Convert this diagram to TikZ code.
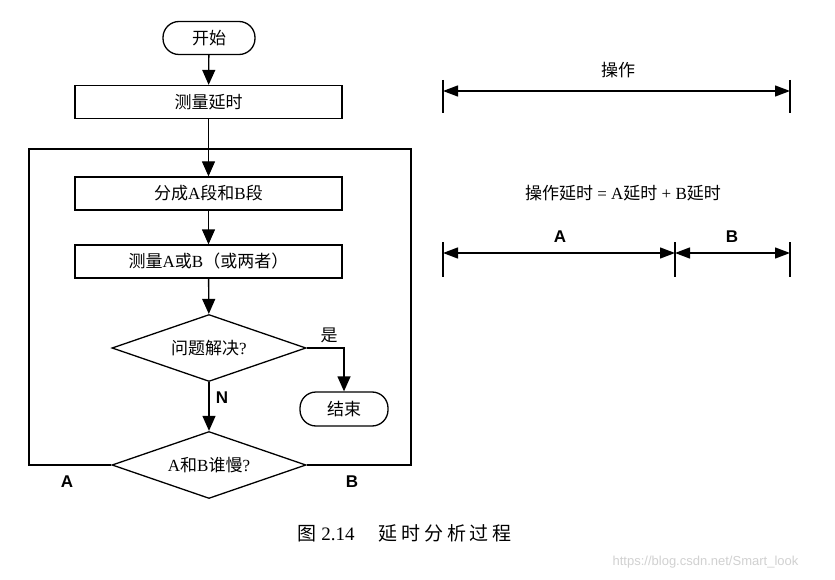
\documentclass[tikz,border=0pt]{standalone}
\usepackage{fontspec}
\setmainfont{Liberation Serif}
\newfontfamily\cjk{Noto Sans CJK SC}
\newfontfamily\cjkcap[LetterSpace=20]{Noto Sans CJK SC}
\newfontfamily\lsans{Liberation Sans}
\newcommand{\zh}[1]{{\cjk #1}}
\usetikzlibrary{shapes.geometric,arrows.meta}
\begin{document}
\begin{tikzpicture}[x=1pt,y=-1pt,
  line width=1.3pt,
  >={Triangle[length=15pt,width=13pt]},
  every node/.style={font=\fontsize{17}{20}\selectfont, inner sep=0pt},
  procbox/.style={draw, rectangle, minimum width=267pt, minimum height=33pt},
  terminal/.style={draw, rectangle, rounded corners=16pt, minimum height=33pt},
  decision/.style={draw, diamond, aspect=2.9, minimum width=194pt, minimum height=67pt},
  lbl/.style={font=\lsans\bfseries\fontsize{17}{20}\selectfont},
  dimarrow/.style={{Triangle[length=15pt,width=11pt]}-{Triangle[length=15pt,width=11pt]}}
]
\useasboundingbox (0,0) rectangle (835,580);
\fill[white] (0,0) rectangle (835,580);

% flowchart
\node[terminal, minimum width=92pt] (start) at (209,38) {\zh{开始}};
\node[procbox] (m1) at (208.5,102) {\zh{测量延时}};
\node[procbox] (split) at (208.5,193.5) {\zh{分成}A\zh{段和}B\zh{段}};
\node[procbox] (mab) at (208.5,261.5) {\zh{测量}A\zh{或}B\zh{（或两者）}};
\node[decision] (d1) at (209,348) {\zh{问题解决}?};
\node[terminal, minimum width=88pt, minimum height=34pt] (end) at (344,409) {\zh{结束}};
\node[decision] (d2) at (209,465) {A\zh{和}B\zh{谁慢}?};

\coordinate (lt) at (29,149);
\coordinate (rt) at (411,149);

\draw[->] (start) -- (m1);
\draw[->] (m1) -- (split);
\draw[->] (split) -- (mab);
\draw[->] (mab) -- (d1);
\draw[->] (d1.east) -| (end.north);
\draw[->] (d1.south) -- (d2.north);
\draw (d2.west) -| (lt) -- (rt) |- (d2.east);

\node (yes) at (329,335) {\zh{是}};
\node[lbl] (nlab) at (222,398) {N};
\node[lbl] (alab) at (67,482) {A};
\node[lbl] (blab) at (352,482) {B};

% right side
\coordinate (t1a) at (443,80);  \coordinate (t1b) at (443,113);
\coordinate (t2a) at (790,80);  \coordinate (t2b) at (790,113);
\coordinate (p1) at (443,91);   \coordinate (p2) at (790,91);
\draw (t1a) -- (t1b);
\draw (t2a) -- (t2b);
\draw[dimarrow] (p1) -- (p2);
\node (op) at (618,70) {\zh{操作}};

\node (formula) at (623,193) {\zh{操作延时} = A\zh{延时} + B\zh{延时}};

\coordinate (u1a) at (443,242); \coordinate (u1b) at (443,277);
\coordinate (u2a) at (675,242); \coordinate (u2b) at (675,277);
\coordinate (u3a) at (790,242); \coordinate (u3b) at (790,277);
\coordinate (q1) at (443,253); \coordinate (q2) at (675,253); \coordinate (q3) at (790,253);
\draw (u1a) -- (u1b);
\draw (u2a) -- (u2b);
\draw (u3a) -- (u3b);
\draw[dimarrow] (q1) -- (q2);
\draw[dimarrow] (q2) -- (q3);
\node[lbl] (la) at (560,237) {A};
\node[lbl] (lb) at (732,237) {B};

% caption
\node[anchor=west, font=\fontsize{19}{22}\selectfont] (cap) at (297,533) {\zh{图} 2.14\hspace{24pt}{\cjkcap 延时分析过程}};
\node[anchor=east, font=\lsans\fontsize{13}{15}\selectfont, text=black!18] (wm) at (799,562) {https://blog.csdn.net/Smart\_look};
\end{tikzpicture}
\end{document}
